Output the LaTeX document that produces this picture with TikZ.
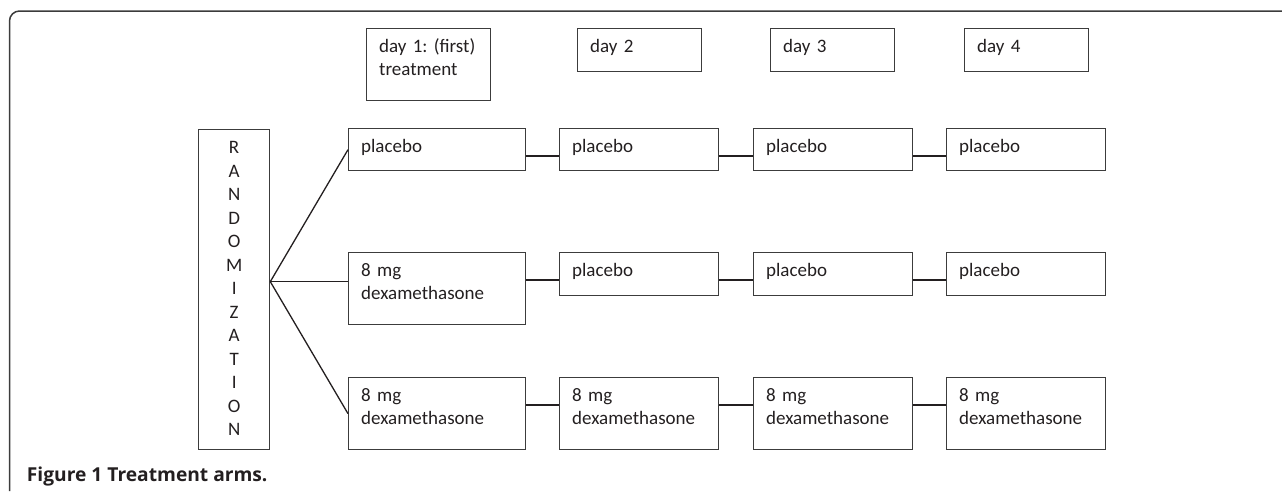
\documentclass[tikz,border=0pt]{standalone}
\usepackage{fontspec}
\setmainfont{Carlito}
\newfontfamily\capfont{Open Sans}
\definecolor{boxgray}{HTML}{3C3C3C}
\definecolor{inkgray}{HTML}{231F20}
\tikzset{
  box/.style={draw=boxgray,line width=1.3pt,anchor=north west,inner xsep=12.5pt,inner ysep=0pt,
    text height=24pt,align=left,text=inkgray,font=\fontsize{19}{23}\selectfont},
  link/.style={draw=inkgray,line width=1.3pt},
}
\begin{document}
\begin{tikzpicture}[x=1pt,y=-1pt]
    \useasboundingbox(0,0)rectangle(1282,491);
    \draw[boxgray,line width=1.5pt,rounded corners=10pt](9.5,491)--(9.5,11)--(1282,11);
    \node[box,text width=99pt,text depth=48pt](d1)at(366,28){day~1:~(first)\\treatment};
    \node[box,text width=99pt,text depth=19pt](d2)at(577,28){day 2};
    \node[box,text width=99pt,text depth=19pt](d3)at(770,28){day 3};
    \node[box,text width=99pt,text depth=19pt](d4)at(964,28){day 4};
    \node[box,inner xsep=0pt,text width=71pt,text depth=296pt,align=center,font=\fontsize{19}{23.5}\selectfont](rand)at(198,129)
        {R\\A\\N\\D\\O\\M\\I\\Z\\A\\T\\I\\O\\N};
    \node[box,text width=152pt,text depth=18pt](a1)at(348,128){placebo};
    \node[box,text width=134pt,text depth=18pt](a2)at(559,128){placebo};
    \node[box,text width=134pt,text depth=18pt](a3)at(753,128){placebo};
    \node[box,text width=134pt,text depth=18pt](a4)at(946,128){placebo};
    \node[box,text width=152pt,text depth=48pt](b1)at(348,252){8 mg\\dexamethasone};
    \node[box,text width=134pt,text depth=19pt](b2)at(559,252){placebo};
    \node[box,text width=134pt,text depth=19pt](b3)at(753,252){placebo};
    \node[box,text width=134pt,text depth=19pt](b4)at(946,252){placebo};
    \node[box,text width=152pt,text depth=48pt](c1)at(348,377){8 mg\\dexamethasone};
    \node[box,text width=134pt,text depth=48pt](c2)at(559,377){8 mg\\dexamethasone};
    \node[box,text width=134pt,text depth=48pt](c3)at(753,377){8 mg\\dexamethasone};
    \node[box,text width=134pt,text depth=48pt](c4)at(946,377){8 mg\\dexamethasone};
    \coordinate(fan)at([yshift=8pt]rand.east);
    \draw[link](fan)--(a1.west);
    \draw[link](fan)--(fan-|b1.west);
    \draw[link](fan)--(c1.west);
    \draw[link]([yshift=-28pt]a1.north east)--([yshift=-28pt]a2.north west);
    \draw[link]([yshift=-28pt]a2.north east)--([yshift=-28pt]a3.north west);
    \draw[link]([yshift=-28pt]a3.north east)--([yshift=-28pt]a4.north west);
    \draw[link]([yshift=-28pt]b1.north east)--([yshift=-28pt]b2.north west);
    \draw[link]([yshift=-28pt]b2.north east)--([yshift=-28pt]b3.north west);
    \draw[link]([yshift=-28pt]b3.north east)--([yshift=-28pt]b4.north west);
    \draw[link]([yshift=-28pt]c1.north east)--([yshift=-28pt]c2.north west);
    \draw[link]([yshift=-28pt]c2.north east)--([yshift=-28pt]c3.north west);
    \draw[link]([yshift=-28pt]c3.north east)--([yshift=-28pt]c4.north west);
    \node[anchor=base west,inner sep=0pt,text=inkgray,font=\capfont\bfseries\fontsize{19.2}{22}\selectfont](cap)at(26.7,481){Figure 1 Treatment arms.};
\end{tikzpicture}
\end{document}
